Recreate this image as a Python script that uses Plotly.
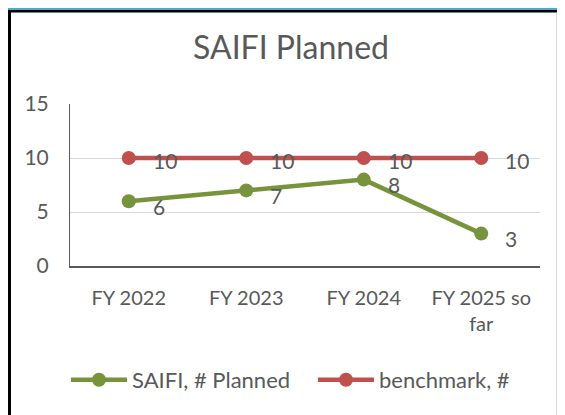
import plotly.graph_objects as go

categories = ["FY 2022", "FY 2023", "FY 2024", "FY 2025 so<br>far"]
saifi_planned = [6, 7, 8, 3]
benchmark = [10, 10, 10, 10]
y_ticks = [0, 5, 10, 15]

# The page body has an 8px margin, so the figure is sized and laid out
# to sit inside it; positions below are given in window pixels.
OFF = 8
W, H = 565 - OFF, 415 - OFF
GREEN = "#77933C"
RED = "#C0504D"
TXT = "#595959"
FONT = "Lato"

def px(x):
    return (x - OFF) / W

def py(y):
    return 1 - (y - OFF) / H

fig = go.Figure()
fig.add_trace(go.Scatter(
    x=categories, y=saifi_planned, name="SAIFI, # Planned",
    mode="lines+markers", line=dict(color=GREEN, width=4.5),
    marker=dict(color=GREEN, size=14), legend="legend",
))
fig.add_trace(go.Scatter(
    x=categories, y=benchmark, name="benchmark, #",
    mode="lines+markers", line=dict(color=RED, width=4.5),
    marker=dict(color=RED, size=14), legend="legend2",
))

annotations = []
for series, dy in ((saifi_planned, -5), (benchmark, -2)):
    for c, v in zip(categories, series):
        annotations.append(dict(
            x=c, y=v, xref="x", yref="y", text=str(v), showarrow=False,
            xanchor="left", yanchor="middle", xshift=23, yshift=dy, borderpad=0,
            font=dict(family=FONT, size=21, color=TXT),
        ))

shapes = [
    dict(type="rect", xref="paper", yref="paper", x0=0, x1=1, y0=1 - 2 / H, y1=1,
         fillcolor="#4BACC6", line=dict(width=0), layer="above"),
    dict(type="rect", xref="paper", yref="paper", x0=0, x1=1, y0=1 - 4.5 / H, y1=1 - 2 / H,
         fillcolor="#000000", line=dict(width=0), layer="above"),
    dict(type="rect", xref="paper", yref="paper", x0=0, x1=3 / W, y0=0, y1=1 - 2 / H,
         fillcolor="#000000", line=dict(width=0), layer="above"),
    dict(type="line", xref="paper", yref="paper", x0=px(556.5), x1=px(556.5), y0=0, y1=1 - 5 / H,
         line=dict(color="#d9d9d9", width=1), layer="above"),
]

legend_common = dict(orientation="h", yanchor="middle", xanchor="left",
                     font=dict(family=FONT, size=22, color=TXT), itemwidth=56,
                     bgcolor="rgba(0,0,0,0)")

fig.update_layout(
    width=W, height=H,
    margin=dict(l=0, r=0, t=0, b=0),
    paper_bgcolor="white", plot_bgcolor="white",
    font=dict(family=FONT, color=TXT),
    title=dict(text="SAIFI Planned", x=px(291), y=py(48), xref="paper", yref="paper",
               xanchor="center", yanchor="middle",
               font=dict(family=FONT, size=32, color=TXT)),
    showlegend=True,
    legend=dict(x=px(66), y=py(380), **legend_common),
    legend2=dict(x=px(313), y=py(380), **legend_common),
    xaxis=dict(domain=[px(70), px(540)], type="category", range=[-0.5, 3.5],
               showgrid=False, showline=True, linecolor="#595959", linewidth=2,
               ticks="", tickfont=dict(family=FONT, size=20, color=TXT),
               ticklabelstandoff=13, automargin=False, fixedrange=True),
    yaxis=dict(domain=[py(266), py(104)], range=[0, 15], tickvals=y_ticks,
               showgrid=True, gridcolor="#d9d9d9", gridwidth=1,
               showline=True, linecolor="#595959", linewidth=1, zeroline=False,
               ticks="", tickfont=dict(family=FONT, size=21, color=TXT),
               ticklabelstandoff=16, automargin=False, fixedrange=True),
    annotations=annotations,
    shapes=shapes,
)

fig.write_html("out.html")
